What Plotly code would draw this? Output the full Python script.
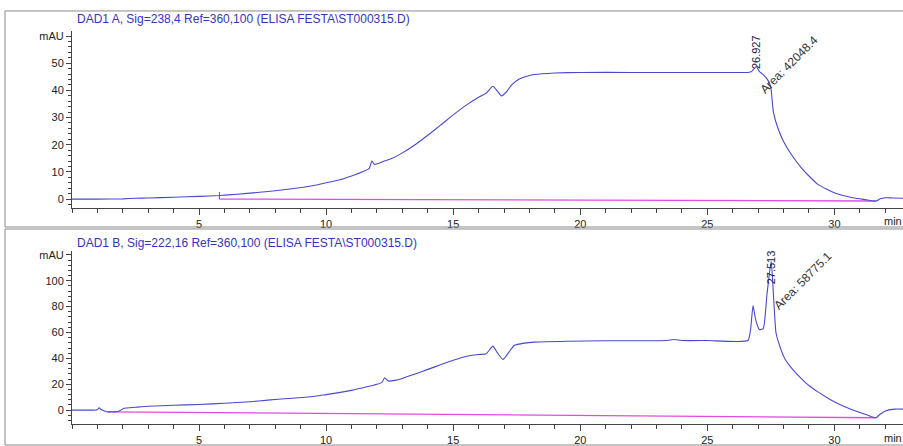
import plotly.graph_objects as go

# ---- Signal A: DAD1 A, Sig=238,4 ----
time_a = [0, 1, 2, 2.5, 3, 4, 5, 5.8, 6.5, 7.5, 8.5, 9.5, 10, 10.5, 11, 11.5, 11.7,
          11.8, 11.9, 12.0, 12.3, 12.6, 13, 13.5, 14, 14.5, 15, 15.5, 16, 16.3, 16.56,
          16.75, 16.9, 17.1, 17.3, 17.6, 18, 18.5, 19, 20, 22, 24, 26, 26.6, 26.75,
          26.927, 27.05, 27.2, 27.4, 27.5, 27.6, 27.8, 28.0, 28.3, 28.7, 29.0, 29.35,
          29.7, 30.0, 30.3, 30.67, 31.0, 31.3, 31.65, 31.8, 32.0, 32.3, 32.7]
signal_a = [0, 0, 0.1, 0.3, 0.4, 0.7, 1.0, 1.3, 1.8, 2.6, 3.6, 5.0, 6.0, 7.0, 8.5, 10.3, 11.3,
            14.0, 12.8, 12.9, 14.0, 15.0, 17.0, 20.0, 23.5, 27.2, 31.0, 34.5, 37.5, 39.0, 41.5,
            39.6, 38.0, 39.5, 42.0, 44.2, 45.5, 46.1, 46.4, 46.6, 46.6, 46.6, 46.6, 46.6, 47.0,
            48.8, 46.9, 45.8, 43.5, 41.0, 32.0, 25.5, 21.2, 16.5, 11.5, 8.5, 5.4,
            3.6, 2.3, 1.4, 0.6, 0.1, -0.3, -0.7, 0.1, 0.5, 0.4, 0.3]
baseline_a_t = [5.8, 31.65]
baseline_a_v = [0.0, -0.7]
start_mark_a_t = [5.8, 5.8]
start_mark_a_v = [0.0, 2.6]
peak_a_rt = 26.927
peak_a_area = "42048.4"

# ---- Signal B: DAD1 B, Sig=222,16 ----
time_b = [0, 0.8, 1.0, 1.07, 1.15, 1.3, 1.4, 1.6, 1.75, 1.9, 2.05, 2.5, 3, 4, 5, 6, 7, 7.7,
          8.5, 9.5, 10, 10.5, 11, 11.6, 12.0, 12.2, 12.3, 12.45, 12.7, 13, 13.5, 14, 14.5,
          15, 15.5, 16.0, 16.3, 16.56, 16.75, 16.96, 17.2, 17.4, 17.8, 18.2, 19.5, 21,
          23.4, 23.7, 24.0, 25, 26.6, 26.7, 26.8, 26.9, 27.05, 27.2, 27.35, 27.513, 27.6,
          27.7, 27.8, 28.05, 28.4, 28.7, 29.0, 29.35, 29.7, 30.0, 30.3, 30.67, 31.0, 31.3,
          31.63, 31.8, 31.98, 32.37, 32.7]
signal_b = [0, 0, 0.3, 1.8, 0.5, -0.8, -1.3, -1.3, -1.3, -0.2, 1.5, 2.2, 3.0, 3.8, 4.4, 5.3,
            6.5, 7.7, 9.0, 10.5, 12.0, 13.5, 15.3, 18.0, 20.0, 21.5, 25.0, 22.5, 23.0, 24.5,
            28.0, 31.5, 35.0, 38.5, 41.5, 43.0, 43.6, 49.5, 44.0, 39.2, 45.0, 50.0, 51.8,
            52.6, 53.3, 53.6, 53.8, 54.6, 53.8, 53.8, 53.8, 62.0, 80.8, 70.0, 62.3, 63.0,
            90.0, 115.0, 90.0, 60.0, 52.6, 39.7, 30.5, 24.4, 19.0, 14.1, 9.8, 6.4, 3.5, 0.5,
            -1.8, -3.8, -5.9, -3.2, -0.8, 0.8, 0.8]
baseline_b_t = [1.4, 31.63]
baseline_b_v = [-1.3, -5.9]
peak_b_rt = 27.513
peak_b_area = "58775.1"

title_a = "DAD1 A, Sig=238,4 Ref=360,100 (ELISA FESTA\\ST000315.D)"
title_b = "DAD1 B, Sig=222,16 Ref=360,100 (ELISA FESTA\\ST000315.D)"

x_ticks = [5, 10, 15, 20, 25, 30]
y_ticks_a = [0, 10, 20, 30, 40, 50, 60]
y_text_a = ["0", "10", "20", "30", "40", "50", "mAU"]
y_ticks_b = [0, 20, 40, 60, 80, 100, 120]
y_text_b = ["0", "20", "40", "60", "80", "100", "mAU"]

W, H = 903, 446
SIG = "#4848d4"
BASE = "#e04ce0"
TXT = "#222222"
FONT = "Liberation Sans"


def px(x):
    return x / W


def py(y):
    return 1 - y / H


fig = go.Figure()
fig.add_trace(go.Scatter(x=baseline_a_t, y=baseline_a_v, mode="lines",
                         line=dict(color=BASE, width=1.3), xaxis="x", yaxis="y"))
fig.add_trace(go.Scatter(x=start_mark_a_t, y=start_mark_a_v, mode="lines",
                         line=dict(color="#a03070", width=1), xaxis="x", yaxis="y"))
fig.add_trace(go.Scatter(x=time_a, y=signal_a, mode="lines",
                         line=dict(color=SIG, width=1.1, shape="spline", smoothing=0.5),
                         xaxis="x", yaxis="y"))
fig.add_trace(go.Scatter(x=baseline_b_t, y=baseline_b_v, mode="lines",
                         line=dict(color=BASE, width=1.3), xaxis="x2", yaxis="y2"))
fig.add_trace(go.Scatter(x=time_b, y=signal_b, mode="lines",
                         line=dict(color=SIG, width=1.1, shape="spline", smoothing=0.5),
                         xaxis="x2", yaxis="y2"))

x_common = dict(range=[0, 32.7], tickmode="array", tickvals=x_ticks, ticks="outside",
                ticklen=6, tickcolor="#444", showline=True, linecolor="#444", linewidth=1,
                showgrid=False, zeroline=False, domain=[px(72), 1],
                tickfont=dict(family=FONT, size=11, color=TXT),
                minor=dict(dtick=1, tick0=0, ticks="outside", ticklen=4, tickcolor="#444"))
y_common = dict(ticks="outside", ticklen=5, tickcolor="#444", showline=True,
                linecolor="#444", linewidth=1, showgrid=False, zeroline=False,
                tickfont=dict(family=FONT, size=11, color=TXT), tickmode="array")

fig.update_layout(
    width=W, height=H, margin=dict(l=0, r=0, t=0, b=0),
    paper_bgcolor="white", plot_bgcolor="white", showlegend=False,
    xaxis=dict(x_common, anchor="y"),
    xaxis2=dict(x_common, anchor="y2"),
    yaxis=dict(y_common, anchor="x", range=[-3.3, 61.9], tickvals=y_ticks_a,
               ticktext=y_text_a, domain=[py(207), py(29)],
               minor=dict(dtick=2, tick0=0, ticks="outside", ticklen=3, tickcolor="#444")),
    yaxis2=dict(y_common, anchor="x2", range=[-10.8, 123.1], tickvals=y_ticks_b,
                ticktext=y_text_b, domain=[py(424), py(250)],
                minor=dict(dtick=4, tick0=0, ticks="outside", ticklen=3, tickcolor="#444")),
)

# panel frames
for y0, y1 in [(9, 226), (228, 445)]:
    fig.add_shape(type="rect", xref="paper", yref="paper", x0=px(5), x1=1.02,
                  y0=py(y1), y1=py(y0), line=dict(color="#8a8a8a", width=1))

# panel titles and axis unit
for title, y in [(title_a, 17), (title_b, 242)]:
    fig.add_annotation(text=title, xref="paper", yref="paper", x=px(75), y=py(y),
                       xanchor="left", yanchor="middle", showarrow=False,
                       font=dict(family=FONT, size=12, color="#3434c4"))
for y in [220, 438]:
    fig.add_annotation(text="min", xref="paper", yref="paper", x=px(882), y=py(y),
                       xanchor="left", yanchor="middle", showarrow=False,
                       font=dict(family=FONT, size=11, color=TXT))

# peak labels
fig.add_annotation(text=f"{peak_a_rt:.3f}", x=peak_a_rt, y=54.2, xref="x", yref="y",
                   textangle=-90, showarrow=False,
                   font=dict(family=FONT, size=11, color="#20204a"))
fig.add_annotation(text=f"Area: {peak_a_area}", x=28.2, y=49.5, xref="x", yref="y",
                   textangle=-45, showarrow=False,
                   font=dict(family=FONT, size=12, color="#333333"))
fig.add_annotation(text=f"{peak_b_rt:.3f}", x=peak_b_rt, y=110.5, xref="x2", yref="y2",
                   textangle=-90, showarrow=False,
                   font=dict(family=FONT, size=11, color="#20204a"))
fig.add_annotation(text=f"Area: {peak_b_area}", x=28.75, y=100, xref="x2", yref="y2",
                   textangle=-45, showarrow=False,
                   font=dict(family=FONT, size=12, color="#333333"))

fig.write_html("out.html")
